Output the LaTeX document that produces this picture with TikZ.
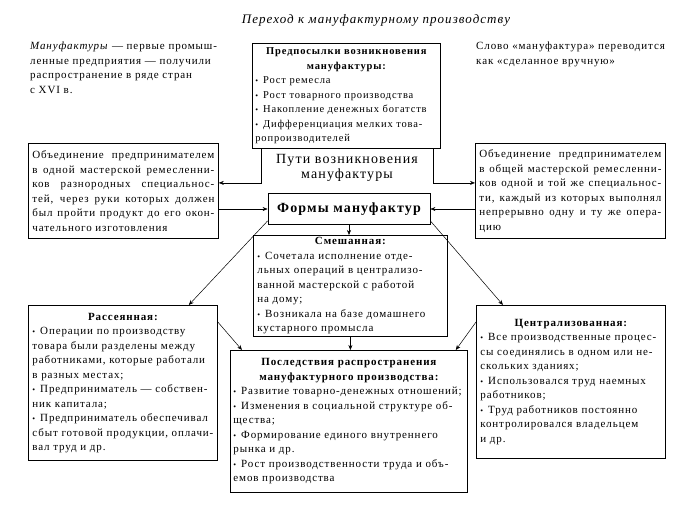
\documentclass[tikz,border=0pt]{standalone}
\usepackage{fontspec}
\setmainfont{Liberation Serif}[LetterSpace=8]
\usetikzlibrary{arrows.meta,positioning}
\newcommand{\bul}{{\footnotesize\textbullet}\hspace{5pt}}
\newcommand{\hd}[1]{{\centering\bfseries #1\par}}
\newcommand{\jl}[1]{\leavevmode\hbox to\hsize{\spaceskip=0.3em plus 1fil #1}\\}

\begin{document}
\begin{tikzpicture}[x=1pt, y=-1pt,
  box/.style={rectangle, draw, line width=0.8pt, inner xsep=4pt, inner ysep=2pt,
              anchor=north west, align=left, font=\fontsize{11}{14.5}\selectfont},
  txt/.style={anchor=north west, inner sep=0pt, align=left,
              font=\fontsize{11}{14.5}\selectfont},
  arr/.style={-{Stealth[length=5pt,width=4pt]}, line width=0.5pt},
]
\useasboundingbox (0,0) rectangle (687,512);

% Title and side notes
\node[font=\fontsize{13}{15}\selectfont\itshape] (title) at (376,20)
  {Переход к мануфактурному производству};
\node[txt, text width=195pt] (intro) at (30,42)
  {\textit{Мануфактуры} — первые промыш-\\ленные предприятия — получили\\распространение в ряде стран\\с XVI в.};
\node[txt, text width=205pt] (word) at (476,42)
  {Слово «мануфактура» переводится\\как «сделанное вручную»};

% Top block
\node[box, inner xsep=3pt, text width=182pt, minimum height=105pt,
      font=\fontsize{10.5}{14.5}\selectfont] (prereq) at (252,43) {%
  \hd{Предпосылки возникновения\\мануфактуры:}
  \bul Рост ремесла\\
  \bul Рост товарного производства\\
  \bul Накопление денежных богатств\\
  \bul Дифференциация мелких това-\\
  ропроизводителей};
\node[font=\fontsize{14}{15.5}\selectfont, align=center, inner sep=0pt,
      minimum width=172pt] (ways) at (347,168) {Пути возникновения\\мануфактуры};

% Row 2: two ways
\node[box, text width=182pt, minimum height=95pt] (unite1) at (28,143) {%
  \jl{Объединение предпринимателем}
  \jl{в одной мастерской ремесленни-}
  \jl{ков разнородных специальнос-}
  \jl{тей, через руки которых должен}
  \jl{был пройти продукт до его окон-}
  чательного изготовления};
\node[box, text width=182pt, minimum height=95pt] (unite2) at (475,143) {%
  \jl{Объединение предпринимателем}
  \jl{в общей мастерской ремесленни-}
  \jl{ков одной и той же специальнос-}
  \jl{ти, каждый из которых выполнял}
  \jl{непрерывно одну и ту же опера-}
  цию};
\node[box, anchor=center, font=\fontsize{14}{16}\selectfont\bfseries,
      minimum width=162pt, minimum height=31pt] (forms) at (349,209) {Формы мануфактур};

% Row 3: forms
\node[box, text width=186pt, minimum height=98pt] (mixed) at (253,235) {%
  \hd{Смешанная:}
  \bul Сочетала исполнение отде-\\
  льных операций в централизо-\\
  ванной мастерской с работой\\
  на дому;\\
  \bul Возникала на базе домашнего\\
  кустарного промысла};
\node[box, text width=181pt, minimum height=155pt] (dispersed) at (28,305) {%
  \hd{Рассеянная:}
  \bul Операции по производству\\
  товара были разделены между\\
  работниками, которые работали\\
  в разных местах;\\
  \bul Предприниматель — собствен-\\
  ник капитала;\\
  \bul Предприниматель обеспечивал\\
  сбыт готовой продукции, оплачи-\\
  вал труд и др.};
\node[box, text width=181pt, minimum height=153pt] (central) at (476,305) {%
  \hd{Централизованная:}
  \bul Все производственные процес-\\
  сы соединялись в одном или не-\\
  скольких зданиях;\\
  \bul Использовался труд наемных\\
  работников;\\
  \bul Труд работников постоянно\\
  контролировался владельцем\\
  и др.};

% Bottom
\node[box, inner xsep=3pt, text width=231pt, minimum height=142pt] (conseq) at (230,350) {%
  \hd{Последствия распространения\\мануфактурного производства:}
  \bul Развитие товарно-денежных отношений;\\
  \bul Изменения в социальной структуре об-\\
  щества;\\
  \bul Формирование единого внутреннего\\
  рынка и др.\\
  \bul Рост производственности труда и объ-\\
  емов производства};

% Arrows
\draw[arr] (ways.west |- prereq.south) |- ([yshift=8pt]unite1.east);
\draw[arr] (ways.east |- prereq.south) |- ([yshift=8pt]unite2.west);
\draw[arr] (unite1.east |- forms) -- (forms.west);
\draw[arr] (unite2.west |- forms) -- (forms.east);
\draw[arr] (forms.south) -- (forms.south |- mixed.north);
\draw[arr] ([yshift=4pt]forms.south west) -- ([xshift=-29pt]dispersed.north east);
\draw[arr] ([yshift=4pt]forms.south east) -- ([xshift=27pt]central.north west);
\draw[arr] ([yshift=-17pt]dispersed.north east) -- ([xshift=12pt]conseq.north west);
\draw[arr] ([yshift=-17pt]central.north west) -- ([xshift=-12pt]conseq.north east);
\draw[arr] (mixed.south) -- (mixed.south |- conseq.north);
\end{tikzpicture}
\end{document}
